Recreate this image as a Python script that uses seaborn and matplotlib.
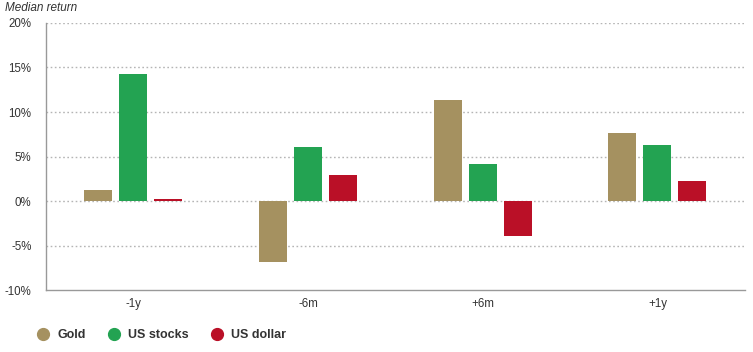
import numpy as np
import pandas as pd
import matplotlib
matplotlib.use("Agg")
import matplotlib.pyplot as plt
from matplotlib.lines import Line2D
import seaborn as sns

# data
periods = ["-1y", "-6m", "+6m", "+1y"]
gold = [1.2, -6.8, 11.4, 7.6]
us_stocks = [14.3, 6.1, 4.2, 6.3]
us_dollar = [0.2, 2.9, -3.9, 2.2]
series = ["Gold", "US stocks", "US dollar"]
colors = ["#A59160", "#23A352", "#BA1027"]

df = pd.DataFrame({
    "period": periods * 3,
    "asset": [s for s in series for _ in periods],
    "value": gold + us_stocks + us_dollar,
})

sns.set_theme(style="white")
plt.rcParams["font.family"] = ["Liberation Sans", "DejaVu Sans"]

fig = plt.figure(figsize=(7.53, 3.52), dpi=100)
ax = fig.add_axes([0.0611, 0.176, 0.9279, 0.7587])

sns.barplot(data=df, x="period", y="value", hue="asset", order=periods,
            hue_order=series, palette=colors, width=0.6, gap=0.2,
            saturation=1, linewidth=0, legend=False, ax=ax)

ax.set_xlim(-0.5, 3.5)
ax.set_ylim(-10, 20)
ax.set_yticks(np.arange(-10, 21, 5))
ax.set_yticklabels([f"{v}%" for v in range(-10, 21, 5)])
for v in range(-5, 21, 5):
    ax.axhline(v, color="#b5b5b5", lw=1, ls=(0, (1.2, 1.8)), zorder=0)

for s in ["top", "right"]:
    ax.spines[s].set_visible(False)
for s in ["left", "bottom"]:
    ax.spines[s].set_color("#999999")
    ax.spines[s].set_linewidth(1)
ax.tick_params(axis="both", length=0, labelsize=8.3, colors="#333333")
ax.tick_params(axis="y", pad=10.5)
ax.tick_params(axis="x", pad=5.5)
ax.set_xlabel("")
ax.set_ylabel("")

fig.text(0.007, 0.995, "Median return", fontsize=8.5, style="italic",
         color="#333333", va="top", ha="left")

handles = [Line2D([0], [0], marker="o", ls="", markersize=8.5,
                  markerfacecolor=c, markeredgecolor=c) for c in colors]
leg = fig.legend(handles, series, loc="lower left", bbox_to_anchor=(0.026, -0.002),
                 ncol=3, frameon=False, handletextpad=0.1, columnspacing=1.3,
                 prop={"size": 9, "weight": "bold"})
for t in leg.get_texts():
    t.set_color("#333333")

fig.savefig("out.png", dpi=100)
